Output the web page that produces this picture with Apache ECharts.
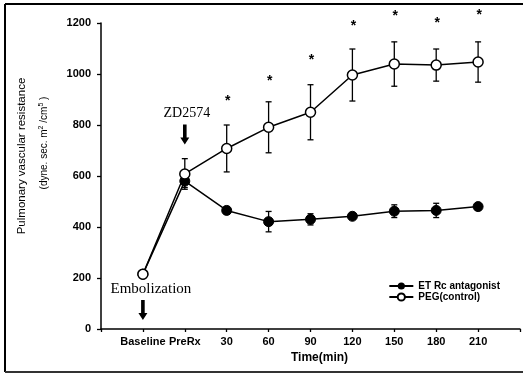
<!DOCTYPE html>
<html>
<head>
<meta charset="utf-8">
<script src="https://cdn.jsdelivr.net/npm/echarts@6/dist/echarts.min.js"></script>
<style>
  html, body { margin: 0; padding: 0; background: #fff; }
  #main { width: 523px; height: 374px; }
</style>
</head>
<body>
<div id="main"></div>
<script>
// x categories (placed at 1..9 on a value axis)
var categories = ['Baseline', 'PreRx', '30', '60', '90', '120', '150', '180', '210'];
// ET Rc antagonist
var etMean = [215, 580, 465, 421, 430, 442, 462, 465, 480];
var etErr  = [0, 25, 15, 40, 22, 10, 25, 28, 12];
// PEG(control)
var pegMean = [215, 608, 708, 791, 850, 996, 1039, 1035, 1047];
var pegErr  = [0, 60, 92, 100, 108, 102, 87, 63, 79];
// significance stars (category index, height)
var starIdx = [2, 3, 4, 5, 6, 7, 8];
var starY   = [904, 985, 1067, 1199, 1239, 1213, 1242];
// arrows with labels (category index, arrow tip value)
var notes = [
  { idx: 1, tip: 724, text: 'ZD2574' },
  { idx: 0, tip: 35, text: 'Embolization' }
];
var yTicks = [0, 200, 400, 600, 800, 1000, 1200];

function pts(mean) {
  return mean.map(function (v, i) { return [i + 1, v]; });
}
function errPts(mean, err) {
  var out = [];
  mean.forEach(function (v, i) { if (err[i] > 0) out.push([i + 1, v - err[i], v + err[i]]); });
  return out;
}

function renderErr(params, api) {
  var x = api.value(0);
  var top = api.coord([x, api.value(2)]);
  var bot = api.coord([x, api.value(1)]);
  var w = 3;
  var st = { stroke: '#000', lineWidth: 1.3 };
  return {
    type: 'group',
    children: [
      { type: 'line', shape: { x1: top[0], y1: top[1], x2: bot[0], y2: bot[1] }, style: st },
      { type: 'line', shape: { x1: top[0] - w, y1: top[1], x2: top[0] + w, y2: top[1] }, style: st },
      { type: 'line', shape: { x1: bot[0] - w, y1: bot[1], x2: bot[0] + w, y2: bot[1] }, style: st }
    ]
  };
}

function renderNote(params, api) {
  var n = notes[params.dataIndex];
  var p = api.coord([n.idx + 1, n.tip]);
  var x = p[0], y = p[1];
  var len = 20, head = 7;
  return {
    type: 'group',
    children: [
      {
        type: 'polygon',
        shape: { points: [
          [x - 1.8, y - len], [x + 1.8, y - len], [x + 1.8, y - head],
          [x + 4.5, y - head], [x, y], [x - 4.5, y - head], [x - 1.8, y - head]
        ] },
        style: { fill: '#000' }
      },
      {
        type: 'text',
        x: n.idx === 0 ? x + 8 : x + 2,
        y: y - len - 11,
        style: {
          text: n.text, fill: '#000', align: 'center', verticalAlign: 'middle',
          font: (n.idx === 0 ? '15px' : '14px') + ' "Liberation Serif", "Times New Roman", serif'
        }
      }
    ]
  };
}

function renderStar(params, api) {
  var p = api.coord([api.value(0), api.value(1)]);
  return {
    type: 'text', x: p[0] + 1, y: p[1] + 3,
    style: { text: '*', fill: '#000', align: 'center', verticalAlign: 'middle',
      font: 'bold 14px "Liberation Sans", Arial, sans-serif' }
  };
}

var chart = echarts.init(document.getElementById('main'));
chart.setOption({
  backgroundColor: '#fff',
  animation: false,
  grid: { left: 101, right: 1, top: 23, bottom: 45 },
  legend: {
    orient: 'vertical', right: 18, top: 276, itemGap: 1,
    itemWidth: 24, itemHeight: 9,
    textStyle: { fontFamily: '"Liberation Sans", Arial', fontWeight: 'bold', fontSize: 10, color: '#000' },
    data: ['ET Rc antagonist', 'PEG(control)']
  },
  xAxis: {
    type: 'value', min: 0, max: 10, interval: 1,
    name: 'Time(min)', nameLocation: 'middle', nameGap: 21,
    nameTextStyle: { fontFamily: '"Liberation Sans", Arial', fontWeight: 'bold', fontSize: 12, color: '#000',
      padding: [0, 0, 0, 18] },
    axisLine: { lineStyle: { color: '#000', width: 1.5 } },
    axisTick: { inside: false, length: 3, lineStyle: { color: '#000', width: 1.3 } },
    axisLabel: {
      margin: 7, color: '#000', fontFamily: '"Liberation Sans", Arial', fontWeight: 'bold', fontSize: 11,
      formatter: function (v) { return categories[v - 1] || ''; }
    },
    splitLine: { show: false }
  },
  yAxis: {
    type: 'value', min: 0, max: 1200, interval: 200,
    axisLine: { show: true, lineStyle: { color: '#000', width: 1.5 } },
    axisTick: { show: true, length: 4, lineStyle: { color: '#000', width: 1.3 } },
    axisLabel: {
      margin: 10, color: '#000', fontFamily: '"Liberation Sans", Arial', fontWeight: 'bold', fontSize: 11,
      formatter: function (v) { return yTicks.indexOf(v) >= 0 ? String(v) : ''; }
    },
    splitLine: { show: false }
  },
  graphic: [
    { type: 'line', shape: { x1: 5, y1: 4, x2: 523, y2: 4 }, style: { stroke: '#000', lineWidth: 2 } },
    { type: 'line', shape: { x1: 5, y1: 4, x2: 5, y2: 372 }, style: { stroke: '#000', lineWidth: 2 } },
    { type: 'line', shape: { x1: 5, y1: 372, x2: 523, y2: 372 }, style: { stroke: '#333', lineWidth: 2 } },
    {
      type: 'text', x: 22, y: 156, rotation: Math.PI / 2,
      style: { text: 'Pulmonary vascular resistance', fill: '#000', align: 'center', verticalAlign: 'middle',
        font: '11.5px "Liberation Sans", Arial, sans-serif' }
    },
    {
      type: 'text', x: 44, y: 143, rotation: Math.PI / 2,
      style: {
        text: '(dyne. sec. m{s|2} /cm{s|5} )', fill: '#000', align: 'center', verticalAlign: 'middle',
        font: '10px "Liberation Sans", Arial, sans-serif',
        rich: { s: { fontSize: 7, verticalAlign: 'top', padding: [0, 0, 5, 0], fill: '#000' } }
      }
    }
  ],
  series: [
    {
      name: 'etErr', type: 'custom', renderItem: renderErr, data: errPts(etMean, etErr), z: 1
    },
    {
      name: 'pegErr', type: 'custom', renderItem: renderErr, data: errPts(pegMean, pegErr), z: 1
    },
    {
      name: 'ET Rc antagonist', type: 'line', data: pts(etMean),
      symbol: 'circle', symbolSize: 10,
      itemStyle: { color: '#000', borderColor: '#000' },
      lineStyle: { color: '#000', width: 1.5 }, z: 3
    },
    {
      name: 'PEG(control)', type: 'line', data: pts(pegMean),
      symbol: 'circle', symbolSize: 10,
      itemStyle: { color: '#fff', borderColor: '#000', borderWidth: 1.5 },
      lineStyle: { color: '#000', width: 1.5 }, z: 4
    },
    {
      name: 'stars', type: 'custom', renderItem: renderStar, clip: false,
      data: starIdx.map(function (c, i) { return [c + 1, starY[i]]; })
    },
    {
      name: 'notes', type: 'custom', renderItem: renderNote, clip: false,
      data: notes.map(function (n) { return [n.idx + 1, n.tip]; })
    }
  ]
});
</script>
</body>
</html>
